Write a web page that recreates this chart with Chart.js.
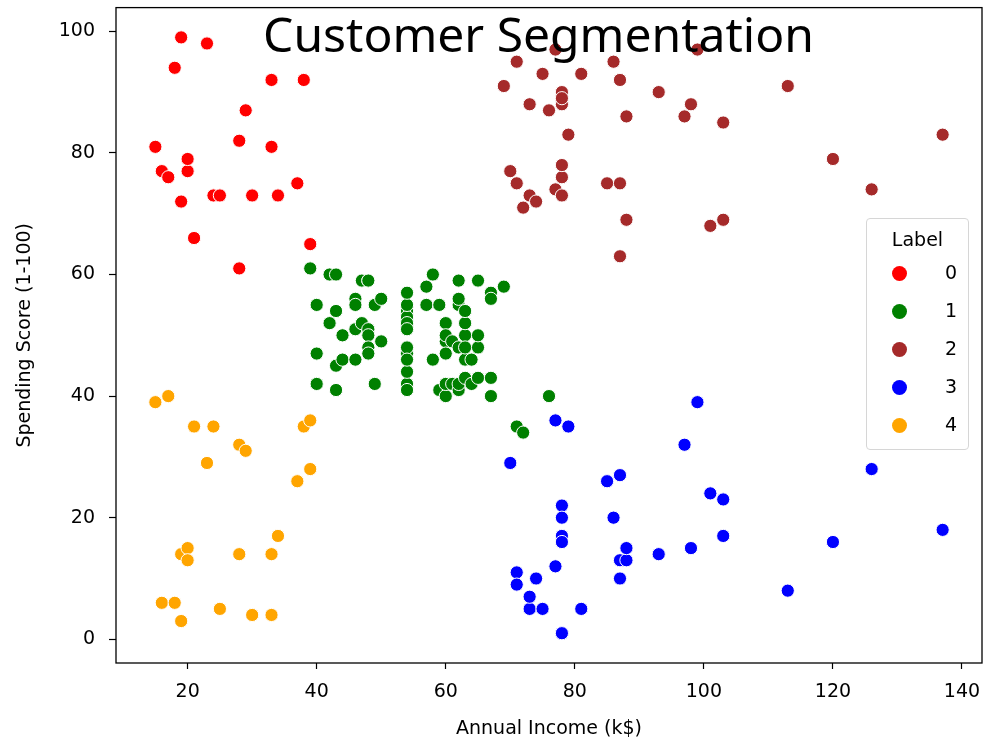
<!DOCTYPE html>
<html>
<head>
<meta charset="utf-8">
<script src="https://cdn.jsdelivr.net/npm/chart.js@4.4.1/dist/chart.umd.min.js"></script>
<style>
  body { margin: 0; background: #fff; }
  #wrap { position: relative; width: 1000px; height: 750px; }
  #title {
    position: absolute; left: 0; width: 1077px; top: 1px;
    text-align: center; font-family: "Noto Sans", sans-serif; font-size: 48px; color: #000;
    pointer-events: none;
  }
  #legend {
    position: absolute; left: 866px; top: 218px; width: 101px; height: 230px;
    border: 1px solid #d6d6d6; border-radius: 4px; background: rgba(255,255,255,0.85);
    font-family: "DejaVu Sans", sans-serif; font-size: 19px; color: #000;
  }
  #legend .head { text-align: center; margin-top: 9px; height: 30px; }
  #legend .item { position: relative; height: 38px; }
  #legend .dot { position: absolute; left: 25px; top: 8px; width: 15px; height: 15px; border-radius: 50%; }
  #legend .lab { position: absolute; left: 78px; top: 3px; }
</style>
</head>
<body>
<div id="wrap">
  <canvas id="chart" width="1000" height="750"></canvas>
  <div id="title">Customer Segmentation</div>
  <div id="legend"></div>
</div>
<script>
const labels = ['0', '1', '2', '3', '4'];
const colors = ['red', 'green', 'brown', 'blue', 'orange'];

const income0 = [15, 16, 17, 18, 19, 19, 20, 20, 21, 23, 24, 25, 28, 28, 29, 30, 33, 33, 34, 37, 38, 39];
const score0  = [81, 77, 76, 94, 72, 99, 77, 79, 66, 98, 73, 73, 82, 61, 87, 73, 92, 81, 73, 75, 92, 65];

const income1 = [39, 40, 40, 40, 40, 42, 42, 43, 43, 43, 43, 44, 44, 46, 46, 46, 46, 47, 47, 48, 48, 48, 48, 48, 48, 49, 49, 50, 50,
  54, 54, 54, 54, 54, 54, 54, 54, 54, 54, 54, 54, 57, 57, 58, 58, 59, 59, 60, 60, 60, 60, 60, 60, 61, 61,
  62, 62, 62, 62, 62, 62, 63, 63, 63, 63, 63, 63, 64, 64, 65, 65, 65, 65, 67, 67, 67, 67, 69, 71, 72, 76];
const score1  = [61, 55, 47, 42, 42, 52, 60, 54, 60, 45, 41, 50, 46, 51, 46, 56, 55, 52, 59, 51, 59, 50, 48, 59, 47, 55, 42, 49, 56,
  47, 54, 53, 48, 52, 42, 51, 55, 41, 44, 57, 46, 58, 55, 60, 46, 55, 41, 49, 40, 42, 52, 47, 50, 42, 49,
  41, 48, 59, 55, 56, 42, 50, 46, 43, 48, 52, 54, 42, 46, 48, 50, 43, 59, 43, 57, 56, 40, 58, 35, 34, 40];

const income2 = [69, 70, 71, 71, 71, 72, 73, 73, 74, 75, 76, 77, 77, 78, 78, 78, 78, 78, 78, 79, 81, 85, 86, 87, 87, 87,
  88, 88, 93, 97, 98, 99, 101, 103, 103, 113, 120, 126, 137];
const score2  = [91, 77, 95, 75, 75, 71, 88, 73, 72, 93, 87, 97, 74, 90, 88, 76, 89, 78, 73, 83, 93, 75, 95, 63, 75, 92,
  86, 69, 90, 86, 88, 97, 68, 85, 69, 91, 79, 74, 83];

const income3 = [70, 71, 71, 73, 73, 74, 75, 77, 77, 78, 78, 78, 78, 78, 78, 79, 81, 85, 86, 87, 87, 87, 88, 88, 93, 97, 98,
  99, 101, 103, 103, 113, 120, 126, 137];
const score3  = [29, 11, 9, 5, 7, 10, 5, 12, 36, 22, 17, 20, 16, 1, 1, 35, 5, 26, 20, 27, 13, 10, 13, 15, 14, 32, 15,
  39, 24, 17, 23, 8, 16, 28, 18];

const income4 = [15, 16, 17, 18, 19, 19, 20, 20, 21, 23, 24, 25, 28, 28, 29, 30, 33, 33, 34, 37, 38, 39, 39];
const score4  = [39, 6, 40, 6, 3, 14, 15, 13, 35, 29, 35, 5, 14, 32, 31, 4, 4, 14, 17, 26, 35, 36, 28];

const incomes = [income0, income1, income2, income3, income4];
const scores = [score0, score1, score2, score3, score4];

const xTicks = [20, 40, 60, 80, 100, 120, 140];
const yTicks = [0, 20, 40, 60, 80, 100];

const datasets = labels.map((lab, i) => ({
  label: lab,
  data: incomes[i].map((x, j) => ({ x: x, y: scores[i][j] })),
  backgroundColor: colors[i],
  borderColor: '#ffffff',
  borderWidth: 1,
  pointRadius: 6.6,
  pointHoverRadius: 6.6
}));

const frame = {
  id: 'frame',
  afterDatasetsDraw(chart) {
    const a = chart.chartArea, c = chart.ctx;
    c.save();
    c.strokeStyle = '#000';
    c.lineWidth = 1.3;
    c.strokeRect(a.left, a.top, a.right - a.left, a.bottom - a.top);
    c.restore();
  }
};

const tickFont = { family: 'DejaVu Sans', size: 19 };

// drop the label overhang padding chart.js adds, axes sizes are fixed here
function noPad(s) {
  s.paddingTop = 0; s.paddingBottom = 0; s.paddingLeft = 0; s.paddingRight = 0;
}

new Chart(document.getElementById('chart').getContext('2d'), {
  type: 'scatter',
  data: { datasets: datasets },
  options: {
    responsive: false,
    animation: false,
    layout: { padding: { left: 0, right: 18, top: 4, bottom: 0 } },
    plugins: { legend: { display: false }, tooltip: { enabled: false } },
    scales: {
      x: {
        type: 'linear', min: 8.9, max: 143.1,
        afterFit(s) { s.height = 87; noPad(s); },
        afterBuildTicks(s) { s.ticks = xTicks.map(v => ({ value: v })); },
        ticks: { color: '#000', font: tickFont, padding: 12 },
        grid: { drawOnChartArea: false, drawTicks: true, tickLength: 6, tickColor: '#000', tickWidth: 1.2 },
        border: { display: false },
        title: { display: true, text: 'Annual Income (k$)', color: '#000', font: tickFont, padding: { top: 0, bottom: 10 } }
      },
      y: {
        type: 'linear', min: -3.9, max: 103.9,
        afterFit(s) { s.width = 116; noPad(s); },
        afterBuildTicks(s) { s.ticks = yTicks.map(v => ({ value: v })); },
        ticks: { color: '#000', font: tickFont, padding: 14 },
        grid: { drawOnChartArea: false, drawTicks: true, tickLength: 7, tickColor: '#000', tickWidth: 1.2 },
        border: { display: false },
        title: { display: true, text: 'Spending Score (1-100)', color: '#000', font: tickFont, padding: { top: 14, bottom: 0 } }
      }
    }
  },
  plugins: [frame]
});

const legend = document.getElementById('legend');
legend.innerHTML = '<div class="head">Label</div>' + labels.map((lab, i) =>
  '<div class="item"><span class="dot" style="background:' + colors[i] + '"></span><span class="lab">' + lab + '</span></div>'
).join('');
</script>
</body>
</html>
